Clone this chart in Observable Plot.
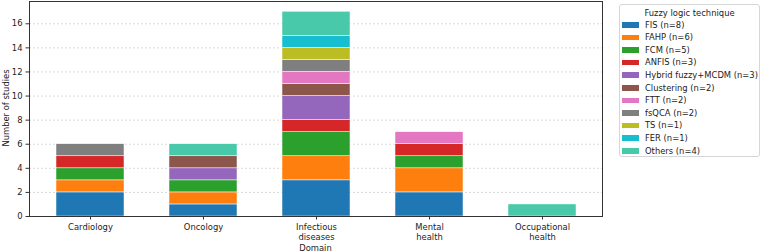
<!DOCTYPE html>
<html>
<head>
<meta charset="utf-8">
<script src="https://cdn.jsdelivr.net/npm/d3@7"></script>
<script src="https://cdn.jsdelivr.net/npm/@observablehq/plot@0.6"></script>
<style>
  body { margin: 0; background: #fff; font-family: "DejaVu Sans", sans-serif; }
  #wrap { position: relative; width: 761px; height: 251px; overflow: hidden; }
  .lbl { position: absolute; font-size: 8.4px; color: #222; white-space: nowrap; line-height: 10px; }
  #ylabel { left: 6px; top: 108px; transform: translate(-50%, -50%) rotate(-90deg); }
  #xlabel { left: 315.5px; top: 247.5px; transform: translate(-50%, -50%); }
  #legend { position: absolute; left: 619px; top: 4px; width: 141px; height: 153px;
    border: 1px solid #d6d6d6; border-radius: 3px; background: #fff; font-size: 8.4px; color: #222; box-sizing: border-box; }
  #legend .title { position: absolute; left: 0; right: 0; top: 3px; text-align: center; white-space: nowrap; line-height: 10px; }
  #legend .row { position: absolute; left: 0; white-space: nowrap; line-height: 10px; height: 10px; }
  #legend .sw { position: absolute; left: 2px; top: 2.5px; width: 17px; height: 5.5px; }
  #legend .tx { position: absolute; left: 25px; top: 0; }
</style>
</head>
<body>
<div id="wrap"><div id="chart"></div><div id="legend"></div>
<div class="lbl" id="ylabel">Number of studies</div>
<div class="lbl" id="xlabel">Domain</div>
</div>
<script>
const domains = ["Cardiology", "Oncology", "Infectious\ndiseases", "Mental\nhealth", "Occupational\nhealth"];
const techniques = ["FIS", "FAHP", "FCM", "ANFIS", "Hybrid fuzzy+MCDM", "Clustering", "FTT", "fsQCA", "TS", "FER", "Others"];
const techniqueTotals = [8, 6, 5, 3, 3, 2, 2, 2, 1, 1, 4];
const colors = ["#1f77b4", "#ff7f0e", "#2ca02c", "#d62728", "#9467bd", "#8c564b", "#e377c2", "#7f7f7f", "#bcbd22", "#17becf", "#48c9a9"];
// counts per domain, in technique order
const cardiology   = [2, 1, 1, 1, 0, 0, 0, 1, 0, 0, 0];
const oncology     = [1, 1, 1, 0, 1, 1, 0, 0, 0, 0, 1];
const infectious   = [3, 2, 2, 1, 2, 1, 1, 1, 1, 1, 2];
const mental       = [2, 2, 1, 1, 0, 0, 1, 0, 0, 0, 0];
const occupational = [0, 0, 0, 0, 0, 0, 0, 0, 0, 0, 1];
const yTicks = [0, 2, 4, 6, 8, 10, 12, 14, 16];

const series = [cardiology, oncology, infectious, mental, occupational];
const data = [];
series.forEach((vals, i) => vals.forEach((v, j) => {
  if (v > 0) data.push({domain: domains[i], technique: techniques[j], count: v});
}));

const chart = Plot.plot({
  width: 761,
  height: 251,
  marginLeft: 29,
  marginRight: 159,
  marginTop: 1,
  marginBottom: 35,
  style: {fontFamily: "DejaVu Sans, sans-serif", fontSize: "8.4px", color: "#222"},
  x: {domain: domains, paddingInner: 0.4, paddingOuter: 0.22, label: null},
  y: {domain: [0, 17.85], label: null},
  color: {domain: techniques, range: colors},
  marks: [
    Plot.gridY(yTicks, {stroke: "#bbb", strokeOpacity: 0.7, strokeDasharray: "2,2", strokeWidth: 0.8}),
    Plot.barY(data, {x: "domain", y: "count", fill: "technique", stroke: "white", strokeWidth: 0.5}),
    Plot.axisY(yTicks, {tickSize: 3.5, tickPadding: 3.5, label: null, stroke: "#333", fontSize: 8.4}),
    Plot.axisX({tickSize: 3.5, tickPadding: 3, label: null, stroke: "#333", lineHeight: 1.2, fontSize: 8.4}),
    Plot.frame({stroke: "#333", strokeWidth: 1})
  ]
});
document.getElementById("chart").appendChild(chart);

const legend = document.getElementById("legend");
const t = document.createElement("div");
t.className = "title";
t.textContent = "Fuzzy logic technique";
legend.appendChild(t);
techniques.forEach((name, i) => {
  const r = document.createElement("div");
  r.className = "row";
  r.style.top = (14.5 + i * 12.6) + "px";
  r.innerHTML = `<span class="sw" style="background:${colors[i]}"></span><span class="tx">${name} (n=${techniqueTotals[i]})</span>`;
  legend.appendChild(r);
});
</script>
</body>
</html>
